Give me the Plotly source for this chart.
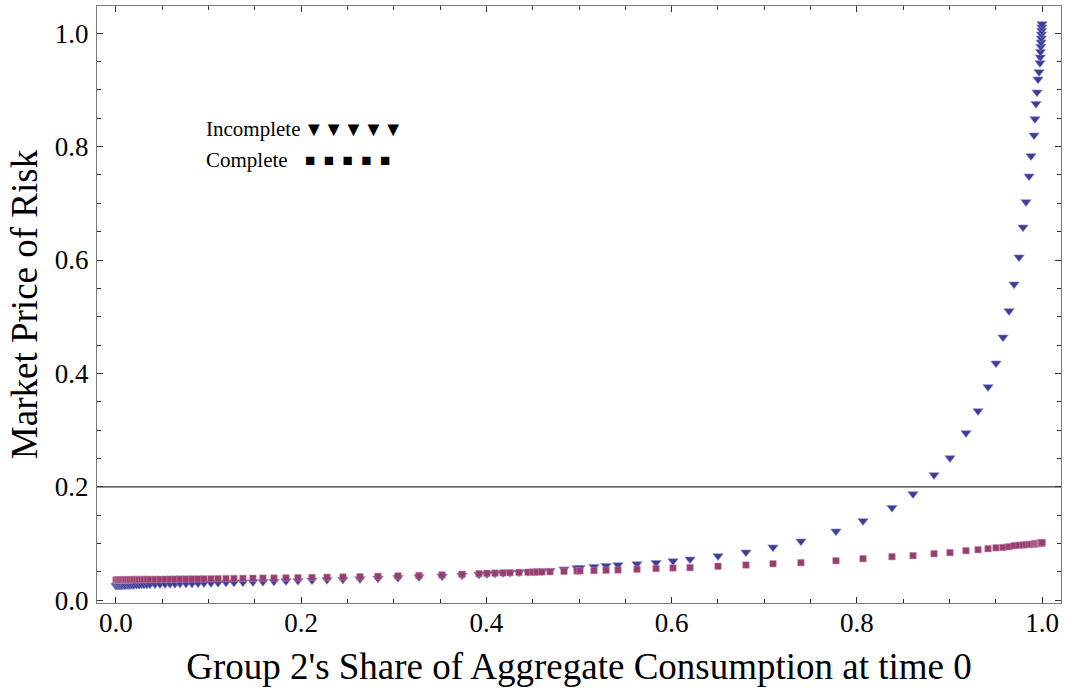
import plotly.graph_objects as go

# Group 2's share of aggregate consumption at time 0
share = [
    0.0000, 0.0011, 0.0022, 0.0032, 0.0043, 0.0059, 0.0076, 0.0092, 0.0108, 0.0130,
    0.0151, 0.0173, 0.0194, 0.0221, 0.0248, 0.0275, 0.0302, 0.0335, 0.0367,
    0.0421, 0.0475, 0.0529, 0.0583, 0.0637, 0.0691, 0.0756, 0.0821, 0.0886, 0.0950,
    0.1026, 0.1102, 0.1188, 0.1274, 0.1371, 0.1479, 0.1587, 0.1706, 0.1836, 0.1965,
    0.2117, 0.2279, 0.2451, 0.2635, 0.2829, 0.3045, 0.3272, 0.3521, 0.3737, 0.3920,
    0.4006, 0.4093, 0.4179, 0.4255, 0.4352, 0.4449, 0.4503, 0.4546, 0.4600, 0.4687,
    0.4838, 0.4978, 0.5011, 0.5162, 0.5292, 0.5421, 0.5626, 0.5832, 0.6015, 0.6199,
    0.6501, 0.6803, 0.7095, 0.7397, 0.7775, 0.8067, 0.8380, 0.8607, 0.8834, 0.9006,
    0.9179, 0.9309, 0.9417, 0.9503, 0.9579, 0.9644, 0.9698, 0.9752, 0.9795, 0.9827,
    0.9860, 0.9881, 0.9914, 0.9924, 0.9935, 0.9946, 0.9957, 0.9968, 0.9978,
    0.9981, 0.9984, 0.9987, 0.9990, 0.9992, 0.9994, 0.9996, 0.9998, 1.0000,
]

# Market price of risk, incomplete markets (triangles)
incomplete = [
    0.0257, 0.0258, 0.0259, 0.0260, 0.0261, 0.0262, 0.0263, 0.0264, 0.0265, 0.0267,
    0.0268, 0.0270, 0.0271, 0.0273, 0.0275, 0.0277, 0.0279, 0.0280, 0.0282,
    0.0284, 0.0286, 0.0288, 0.0290, 0.0292, 0.0294, 0.0296, 0.0298, 0.0300, 0.0303,
    0.0306, 0.0309, 0.0312, 0.0315, 0.0318, 0.0322, 0.0326, 0.0331, 0.0338, 0.0345,
    0.0352, 0.0360, 0.0368, 0.0377, 0.0387, 0.0398, 0.0410, 0.0424, 0.0440, 0.0455,
    0.0464, 0.0472, 0.0480, 0.0487, 0.0494, 0.0502, 0.0506, 0.0510, 0.0514, 0.0522,
    0.0548, 0.0570, 0.0575, 0.0592, 0.0608, 0.0623, 0.0640, 0.0663, 0.0693, 0.0723,
    0.0781, 0.0847, 0.0935, 0.1041, 0.1217, 0.1399, 0.1633, 0.1875, 0.2210, 0.2510,
    0.2951, 0.3339, 0.3762, 0.4180, 0.4638, 0.5102, 0.5573, 0.6049, 0.6578, 0.7025,
    0.7478, 0.7836, 0.8201, 0.8489, 0.8758, 0.8959, 0.9189, 0.9317, 0.9476,
    0.9577, 0.9675, 0.9764, 0.9841, 0.9912, 0.9982, 1.0046, 1.0106, 1.0164,
]

# Market price of risk, complete markets (squares)
complete = [
    0.0358, 0.0359, 0.0360, 0.0360, 0.0361, 0.0361, 0.0362, 0.0362, 0.0363, 0.0363,
    0.0364, 0.0364, 0.0365, 0.0365, 0.0366, 0.0366, 0.0367, 0.0367, 0.0368,
    0.0369, 0.0370, 0.0371, 0.0372, 0.0373, 0.0374, 0.0375, 0.0376, 0.0377, 0.0378,
    0.0379, 0.0381, 0.0383, 0.0385, 0.0387, 0.0389, 0.0391, 0.0393, 0.0395, 0.0398,
    0.0402, 0.0406, 0.0411, 0.0416, 0.0422, 0.0429, 0.0437, 0.0447, 0.0459, 0.0470,
    0.0476, 0.0480, 0.0484, 0.0487, 0.0491, 0.0495, 0.0497, 0.0499, 0.0501, 0.0504,
    0.0510, 0.0517, 0.0518, 0.0524, 0.0529, 0.0534, 0.0547, 0.0560, 0.0570, 0.0575,
    0.0600, 0.0622, 0.0644, 0.0663, 0.0698, 0.0734, 0.0769, 0.0787, 0.0822, 0.0840,
    0.0875, 0.0892, 0.0910, 0.0925, 0.0932, 0.0945, 0.0963, 0.0970, 0.0975, 0.0980,
    0.0985, 0.0988, 0.0993, 0.0995, 0.0997, 0.0999, 0.1001, 0.1003, 0.1005,
    0.1006, 0.1007, 0.1008, 0.1009, 0.1010, 0.1011, 0.1012, 0.1014, 0.1016,
]

x_ticks = [0.0, 0.2, 0.4, 0.6, 0.8, 1.0]
x_tick_labels = ["0.0", "0.2", "0.4", "0.6", "0.8", "1.0"]
y_ticks = [0.0, 0.2, 0.4, 0.6, 0.8, 1.0]
y_tick_labels = ["0.0", "0.2", "0.4", "0.6", "0.8", "1.0"]
reference_level = 0.2

BLUE = "#3d3d99"
PURPLE = "#993d71"
FONT = "Liberation Serif, Times New Roman, serif"
NB = "\u00a0"

fig = go.Figure()
fig.add_trace(go.Scatter(
    x=share, y=incomplete, mode="markers", name="Incomplete",
    marker=dict(symbol="triangle-down", size=9, color=BLUE,
                line=dict(width=0.6, color="#8a8ac8")),
))
fig.add_trace(go.Scatter(
    x=share, y=complete, mode="markers", name="Complete",
    marker=dict(symbol="square", size=6.5, color=PURPLE,
                line=dict(width=0.5, color="#c48aab")),
))

fig.add_shape(type="line", xref="paper", yref="y", x0=0, x1=1,
              y0=reference_level, y1=reference_level,
              line=dict(color="#333333", width=1.2))

axis_common = dict(
    showline=True, linecolor="#7a7a7a", linewidth=1.3, mirror="ticks",
    ticks="inside", ticklen=6, tickwidth=1, tickcolor="#333333",
    showgrid=False, zeroline=False,
    tickfont=dict(family=FONT, size=27, color="black"),
    minor=dict(dtick=0.05, ticks="inside", ticklen=3.5, tickwidth=0.8,
               tickcolor="#333333", showgrid=False),
)

fig.update_xaxes(
    range=[-0.0205, 1.0205], tickvals=x_ticks, ticktext=x_tick_labels,
    title=dict(text="Group 2's Share of Aggregate Consumption at time 0",
               font=dict(family=FONT, size=37, color="black"), standoff=16),
    ticklabelstandoff=-5, tick0=0,
    **axis_common,
)
fig.update_yaxes(
    range=[-0.0048, 1.048], tickvals=y_ticks, ticktext=y_tick_labels,
    title=dict(text="Market Price of Risk",
               font=dict(family=FONT, size=37, color="black"), standoff=5),
    ticklabelstandoff=2, tick0=0,
    **axis_common,
)

fig.add_annotation(xref="paper", yref="paper", x=(204 - 97) / 964, y=(603 - 129) / 597,
                   text="Incomplete", showarrow=False, xanchor="left", yanchor="middle",
                   font=dict(family=FONT, size=21, color="black"))
fig.add_annotation(xref="paper", yref="paper", x=(302 - 97) / 964, y=(603 - 129) / 597,
                   text="▼▼▼▼▼", showarrow=False, xanchor="left", yanchor="middle",
                   font=dict(family=FONT, size=20, color="black"))
fig.add_annotation(xref="paper", yref="paper", x=(204 - 97) / 964, y=(603 - 160) / 597,
                   text="Complete", showarrow=False, xanchor="left", yanchor="middle",
                   font=dict(family=FONT, size=21, color="black"))
fig.add_annotation(xref="paper", yref="paper", x=(303 - 97) / 964, y=(603 - 160) / 597,
                   text=("■" + NB + NB) * 4 + "■", showarrow=False, xanchor="left",
                   yanchor="middle", font=dict(family=FONT, size=17, color="black"))

fig.update_layout(
    width=1066, height=693,
    margin=dict(l=97, r=5, t=6, b=90),
    paper_bgcolor="white", plot_bgcolor="white",
    showlegend=False,
)

fig.write_html(
    "out.html",
    config={"displayModeBar": False},
    post_script="document.body.style.margin='0';document.body.style.padding='0';",
)
